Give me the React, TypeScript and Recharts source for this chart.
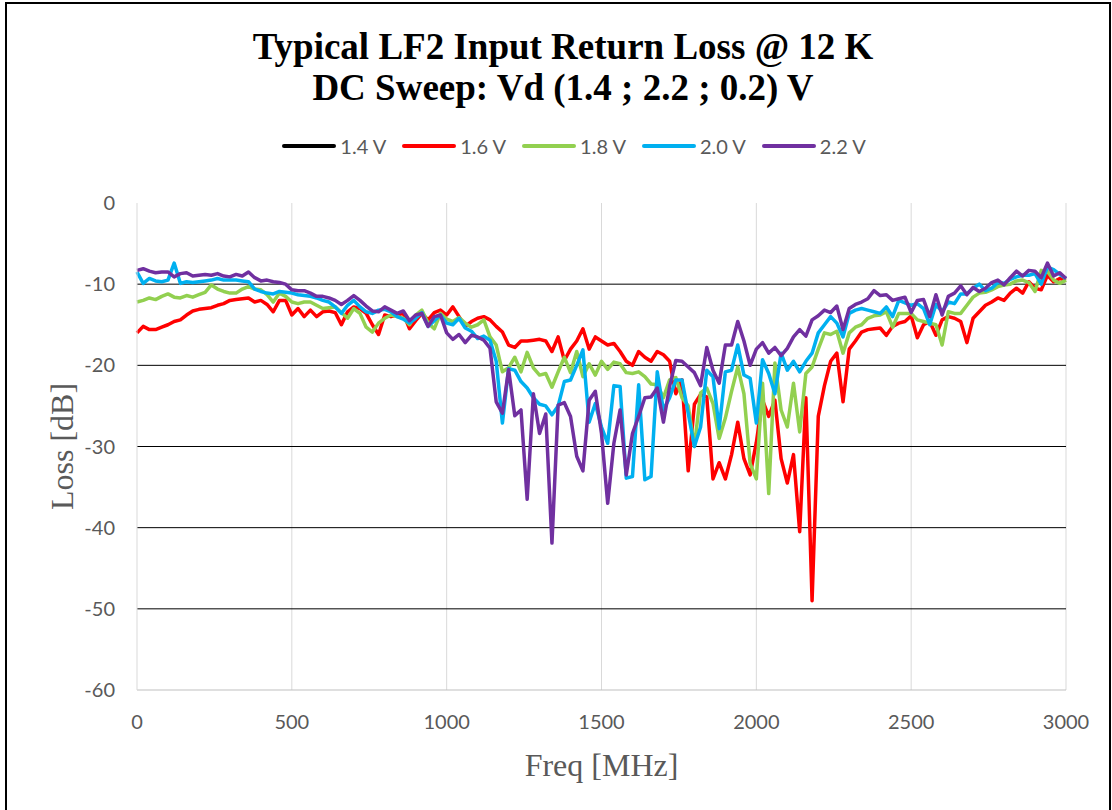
import { LineChart, Line, XAxis, YAxis, CartesianGrid, Legend } from 'recharts'

// frequency points in MHz
const FREQ = [
  0, 20, 40, 60, 80, 100, 120, 140, 160, 180,
  200, 220, 240, 260, 280, 300, 320, 340, 360, 380,
  400, 420, 440, 460, 480, 500, 520, 540, 560, 580,
  600, 620, 640, 660, 680, 700, 720, 740, 760, 780,
  800, 820, 840, 860, 880, 900, 920, 940, 960, 980,
  1000, 1020, 1040, 1060, 1080, 1100, 1120, 1140, 1160, 1180,
  1200, 1220, 1240, 1260, 1280, 1300, 1320, 1340, 1360, 1380,
  1400, 1420, 1440, 1460, 1480, 1500, 1520, 1540, 1560, 1580,
  1600, 1620, 1640, 1660, 1680, 1700, 1720, 1740, 1760, 1780,
  1800, 1820, 1840, 1860, 1880, 1900, 1920, 1940, 1960, 1980,
  2000, 2020, 2040, 2060, 2080, 2100, 2120, 2140, 2160, 2180,
  2200, 2220, 2240, 2260, 2280, 2300, 2320, 2340, 2360, 2380,
  2400, 2420, 2440, 2460, 2480, 2500, 2520, 2540, 2560, 2580,
  2600, 2620, 2640, 2660, 2680, 2700, 2720, 2740, 2760, 2780,
  2800, 2820, 2840, 2860, 2880, 2900, 2920, 2940, 2960, 2980,
  3000,
]

// 1.4 V trace is not visible in the plot, only in the legend
const V14: number[] = []

const V16 = [
  -16.0, -15.2, -15.6, -15.6, -15.3, -15.0, -14.6, -14.4, -13.8, -13.3,
  -13.1, -13.0, -12.9, -12.6, -12.4, -12.0, -11.9, -11.8, -11.7, -12.2,
  -12.0, -12.5, -13.4, -12.0, -12.0, -13.8, -13.0, -14.0, -13.2, -14.0,
  -13.4, -13.3, -13.5, -15.0, -13.4, -12.8, -13.0, -13.6, -15.0, -16.2,
  -13.8, -14.0, -13.8, -13.6, -15.5, -14.5, -13.6, -14.4, -13.5, -13.2,
  -13.8, -12.8, -14.0, -15.2, -14.6, -14.2, -14.0, -14.4, -15.2, -15.9,
  -17.5, -17.8, -17.0, -17.0, -16.9, -16.8, -17.0, -18.3, -16.5, -19.4,
  -18.0, -17.0, -15.5, -18.0, -16.5, -17.0, -17.5, -17.3, -18.3, -19.5,
  -20.0, -18.3, -19.0, -19.5, -18.3, -18.7, -19.5, -23.5, -21.8, -33.0,
  -24.8, -23.6, -23.9, -34.0, -32.0, -34.0, -31.0, -27.0, -31.5, -33.5,
  -29.5, -24.3, -26.3, -24.3, -31.5, -34.5, -31.0, -40.5, -24.0, -49.0,
  -26.3, -22.5, -19.5, -18.5, -24.5, -18.0, -17.0, -15.9, -15.6, -15.5,
  -15.4, -16.3, -15.2, -14.8, -14.6, -13.9, -16.6, -15.0, -14.6, -16.3,
  -14.4, -14.0, -14.2, -14.6, -17.2, -14.2, -13.4, -12.6, -12.2, -11.7,
  -12.0, -11.1, -10.5, -11.1, -9.7, -10.5, -10.7, -8.9, -9.7, -9.3,
  -9.5,
]

const V18 = [
  -12.2, -12.0, -11.7, -11.9, -11.5, -11.2, -11.6, -11.7, -11.4, -11.6,
  -11.3, -11.0, -10.1, -10.6, -10.9, -11.1, -11.1, -10.6, -10.3, -10.6,
  -10.7, -11.3, -12.2, -11.1, -11.5, -12.2, -12.4, -12.2, -12.2, -12.6,
  -13.0, -12.9, -12.8, -13.5, -14.2, -13.0, -13.6, -15.3, -15.9, -14.8,
  -14.2, -13.8, -14.0, -14.2, -15.0, -13.8, -13.2, -14.8, -15.5, -13.6,
  -14.3, -14.6, -14.1, -14.8, -15.3, -15.0, -14.4, -16.5, -17.5, -20.8,
  -20.3, -19.0, -20.8, -18.4, -20.3, -21.2, -21.0, -22.7, -20.8, -19.0,
  -20.9, -18.3, -21.4, -19.8, -21.2, -19.5, -20.5, -19.6, -19.8, -20.9,
  -21.0, -20.8, -21.4, -22.3, -22.4, -24.0, -21.8, -21.5, -24.0, -25.0,
  -30.0, -23.4, -22.8, -24.7, -29.0, -26.5, -23.2, -20.2, -23.5, -32.1,
  -34.0, -22.2, -35.8, -19.7, -25.5, -27.6, -22.2, -28.2, -21.0, -20.2,
  -18.0, -16.0, -16.2, -15.8, -18.5, -16.0, -15.3, -15.0, -14.2, -13.9,
  -13.8, -13.4, -15.3, -13.6, -13.6, -13.6, -14.4, -14.6, -14.8, -15.0,
  -17.5, -13.4, -13.6, -13.6, -12.6, -11.6, -11.1, -11.0, -10.7, -10.3,
  -10.1, -10.0, -9.6, -9.5, -9.8, -10.9, -8.3, -8.4, -9.5, -9.9,
  -9.5,
]

const V20 = [
  -8.5, -9.9, -9.3, -9.6, -9.7, -9.5, -7.4, -9.9, -9.7, -9.8,
  -9.7, -9.6, -9.5, -9.3, -9.5, -9.5, -9.5, -9.6, -9.7, -10.6,
  -10.9, -11.1, -11.2, -10.9, -11.0, -11.1, -11.3, -11.4, -11.5, -11.7,
  -12.0, -12.2, -12.8, -13.6, -12.6, -12.0, -12.8, -13.4, -13.6, -13.2,
  -13.1, -13.4, -14.0, -14.3, -14.8, -14.2, -13.5, -15.2, -14.5, -13.8,
  -14.8, -15.0, -14.2, -15.4, -15.8, -16.7, -16.4, -16.9, -19.5, -27.1,
  -20.4, -20.6, -22.0, -22.8, -24.0, -24.8, -25.0, -26.1, -25.0, -22.0,
  -21.8, -20.0, -18.1, -27.0, -24.7, -27.6, -29.6, -22.5, -22.6, -33.9,
  -33.7, -22.4, -34.1, -33.7, -20.8, -25.5, -24.0, -21.8, -21.8, -25.9,
  -30.0, -27.6, -20.6, -21.4, -27.8, -20.8, -20.6, -17.5, -21.2, -21.6,
  -27.1, -19.3, -21.0, -23.5, -18.5, -20.6, -19.5, -20.8, -19.5, -18.5,
  -16.0, -15.0, -14.0, -14.8, -16.5, -13.6, -13.2, -13.0, -13.2, -13.4,
  -13.6, -12.8, -14.0, -12.0, -12.3, -12.6, -12.4, -13.0, -15.0, -12.5,
  -13.4, -12.2, -12.4, -11.2, -11.2, -10.5, -10.0, -10.8, -10.5, -9.8,
  -9.9, -9.4, -9.1, -8.9, -8.9, -8.7, -10.0, -7.9, -8.2, -8.8,
  -9.3,
]

const V22 = [
  -8.3, -8.1, -8.4, -8.6, -8.5, -8.5, -9.1, -8.7, -8.6, -9.0,
  -8.9, -8.8, -8.9, -8.7, -9.0, -9.1, -8.8, -9.0, -8.5, -9.2,
  -9.6, -9.5, -9.7, -9.8, -10.0, -10.7, -10.8, -10.8, -11.1, -11.5,
  -11.5, -11.7, -12.0, -12.5, -12.0, -11.4, -12.0, -12.7, -13.3, -13.4,
  -12.8, -13.2, -13.6, -13.3, -14.5, -13.8, -13.6, -15.2, -14.0, -13.8,
  -16.0, -16.8, -16.2, -17.2, -16.3, -16.5, -16.9, -17.9, -24.5, -25.9,
  -20.5, -26.2, -25.5, -36.5, -23.5, -28.4, -26.0, -41.9, -24.9, -24.6,
  -26.3, -31.2, -33.0, -24.3, -23.2, -28.4, -37.0, -29.6, -25.5, -33.5,
  -28.4, -26.3, -24.0, -23.9, -22.8, -27.0, -22.6, -19.4, -19.5, -20.2,
  -20.9, -22.5, -17.8, -20.6, -22.2, -17.5, -17.5, -14.6, -17.0, -20.0,
  -18.0, -17.2, -18.5, -17.8, -18.8, -17.9, -16.5, -15.6, -16.4, -14.4,
  -13.9, -13.2, -13.5, -12.7, -15.6, -13.0, -12.5, -12.2, -11.8, -10.8,
  -11.4, -11.3, -12.0, -11.8, -11.6, -13.5, -12.0, -11.9, -14.0, -11.3,
  -13.8, -11.5, -11.1, -10.2, -11.3, -10.4, -10.9, -10.5, -9.8, -9.5,
  -10.1, -9.2, -8.4, -9.0, -8.3, -8.4, -9.2, -7.4, -9.0, -8.6,
  -9.3,
]

const X_TICKS = [0, 500, 1000, 1500, 2000, 2500, 3000]
const Y_TICKS = [-60, -50, -40, -30, -20, -10, 0]

const SERIES = [
  { key: 'v14', name: '1.4 V', color: '#000000', values: V14 },
  { key: 'v16', name: '1.6 V', color: '#FF0000', values: V16 },
  { key: 'v18', name: '1.8 V', color: '#92D050', values: V18 },
  { key: 'v20', name: '2.0 V', color: '#00B0F0', values: V20 },
  { key: 'v22', name: '2.2 V', color: '#7030A0', values: V22 },
]

const data = FREQ.map((f, i) => {
  const row: Record<string, number | undefined> = { f }
  for (const s of SERIES) row[s.key] = s.values[i]
  return row
})

const SANS = 'Lato, "Open Sans", sans-serif'
const SERIF = '"Liberation Serif", "Times New Roman", serif'
const GREY = '#595959'

function LegendContent({ payload }: any) {
  return (
    <div style={{ display: 'flex', justifyContent: 'center', fontFamily: SANS, fontSize: 20, color: GREY }}>
      {(payload ?? []).map((p: any) => (
        <div key={p.value} style={{ display: 'flex', alignItems: 'center', margin: '0 8px' }}>
          <svg width={54} height={8}>
            <line x1={2} y1={4} x2={52} y2={4} stroke={p.color} strokeWidth={4} strokeLinecap="round" />
          </svg>
          <span style={{ marginLeft: 4 }}>{p.value}</span>
        </div>
      ))}
    </div>
  )
}

export default function App() {
  return (
    <div style={{ position: 'absolute', left: 0, top: 0, width: 1112, height: 810, background: '#fff', overflow: 'hidden' }}>
      <div style={{ position: 'absolute', left: 5, top: 2, width: 1102, height: 812, border: '2px solid #000' }} />
      <div
        style={{
          position: 'absolute', left: 7, top: 26, width: 1112, textAlign: 'center',
          fontFamily: SERIF, fontWeight: 'bold', fontSize: 37, lineHeight: '41px', color: '#000',
        }}
      >
        <div>Typical LF2 Input Return Loss @ 12 K</div>
        <div>DC Sweep: Vd (1.4 ; 2.2 ; 0.2) V</div>
      </div>
      <LineChart width={1112} height={810} data={data} margin={{ top: 203, right: 46, bottom: 30, left: 37 }}>
        <CartesianGrid horizontal={false} stroke="#d9d9d9" verticalValues={[500, 1000, 1500, 2000, 2500, 3000]} />
        <CartesianGrid vertical={false} stroke="#000" horizontalValues={[-10, -20, -30, -40, -50]} />
        <XAxis
          dataKey="f"
          type="number"
          domain={[0, 3000]}
          ticks={X_TICKS}
          tick={{ fill: GREY, fontSize: 20, fontFamily: SANS }}
          tickLine={false}
          tickSize={0}
          tickMargin={25}
          axisLine={{ stroke: '#bfbfbf' }}
          height={90}
          label={{ value: 'Freq [MHz]', position: 'insideBottom', offset: 4, fill: GREY, fontSize: 32, fontFamily: SERIF }}
        />
        <YAxis
          type="number"
          domain={[-60, 0]}
          ticks={Y_TICKS}
          tick={{ fill: GREY, fontSize: 20, fontFamily: SANS }}
          tickLine={false}
          tickSize={0}
          tickMargin={22}
          axisLine={{ stroke: '#d9d9d9' }}
          width={100}
          label={{
            value: 'Loss [dB]', angle: -90, position: 'insideLeft', offset: 25,
            fill: GREY, fontSize: 32, fontFamily: SERIF, style: { textAnchor: 'middle' },
          }}
        />
        <Legend
          layout="horizontal"
          verticalAlign="middle"
          align="center"
          content={<LegendContent />}
          wrapperStyle={{ top: 134, left: 18, width: 1112 }}
        />
        {SERIES.map((s) => (
          <Line
            key={s.key}
            dataKey={s.key}
            name={s.name}
            stroke={s.color}
            strokeWidth={3.5}
            strokeLinejoin="round"
            dot={false}
            activeDot={false}
            isAnimationActive={false}
          />
        ))}
      </LineChart>
    </div>
  )
}
